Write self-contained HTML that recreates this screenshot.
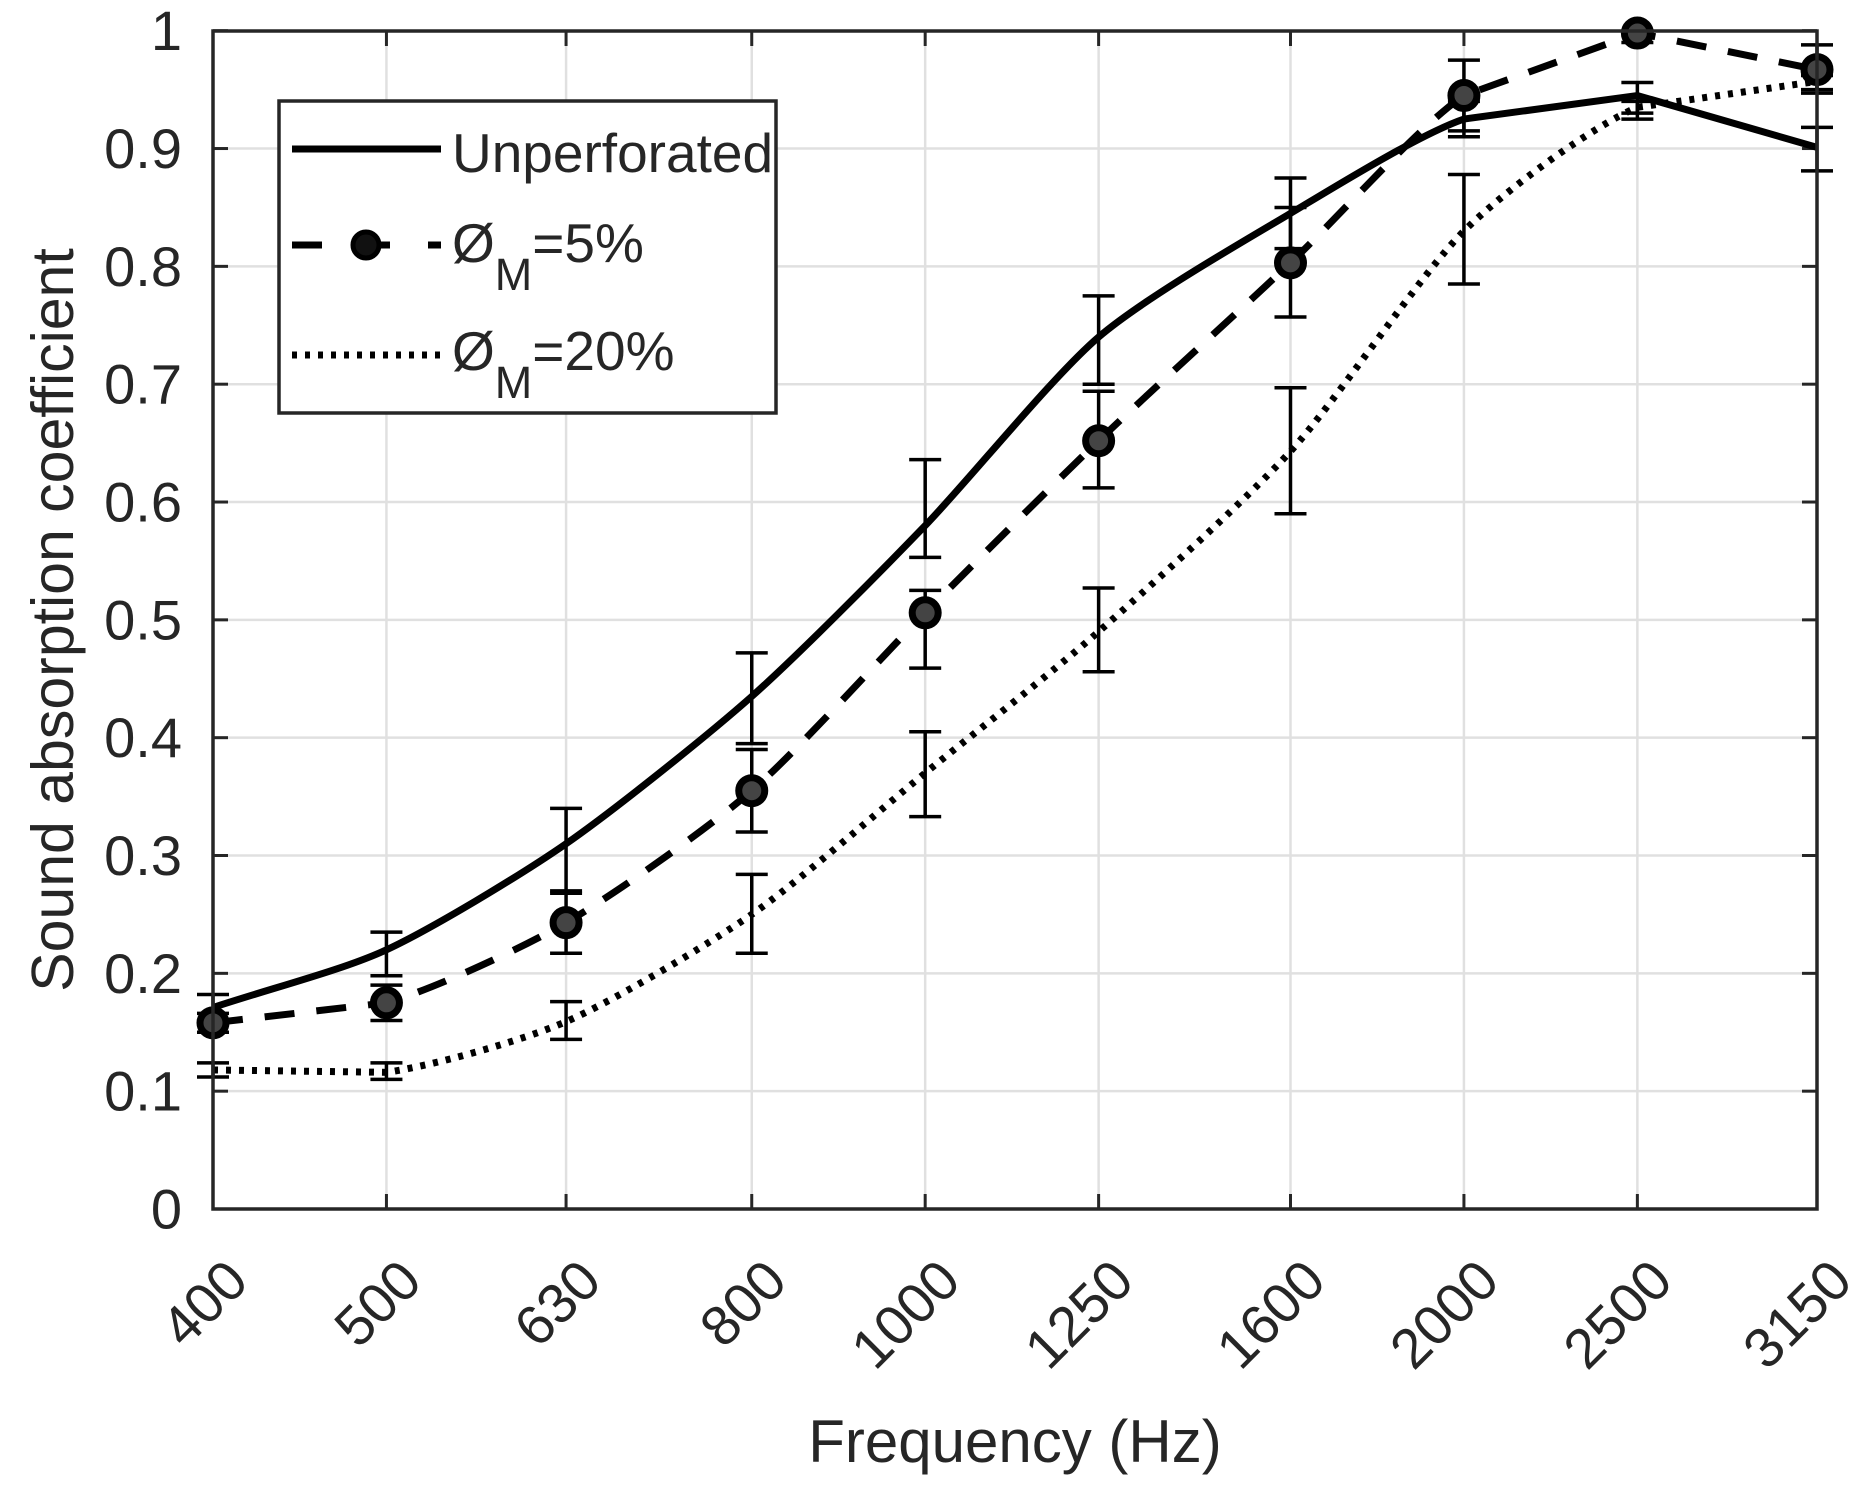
<!DOCTYPE html>
<html><head><meta charset="utf-8">
<style>
html,body{margin:0;padding:0;background:#fff;}
svg{display:block;font-family:"Liberation Sans",Arial,sans-serif;}
</style></head>
<body>
<svg id="s" width="1869" height="1490" viewBox="0 0 1869 1490" xmlns="http://www.w3.org/2000/svg">
<rect width="1869" height="1490" fill="#fff"/>
<g id="grid" stroke="#e0e0e0" stroke-width="2.5"></g>
<g id="ticks" stroke="#262626" stroke-width="3"></g>
<g id="series"></g>
<rect x="213" y="31" width="1604" height="1178" fill="none" stroke="#262626" stroke-width="3.5"/>
<g id="labels" fill="#262626" font-size="56"></g>
<text x="1015" y="1462" font-size="60" fill="#262626" text-anchor="middle">Frequency (Hz)</text>
<text transform="translate(73,620) rotate(-90)" font-size="59" fill="#262626" text-anchor="middle">Sound absorption coefficient</text>
<!-- legend -->
<rect x="279" y="101" width="497" height="312" fill="#fff" stroke="#262626" stroke-width="3.5"/>
<line x1="292" y1="149" x2="441" y2="149" stroke="#000" stroke-width="7"/>
<line x1="292" y1="245" x2="441" y2="245" stroke="#000" stroke-width="7" stroke-dasharray="30 38"/>
<circle cx="366" cy="245" r="13" fill="#111" stroke="#000" stroke-width="5"/>
<line x1="292" y1="355" x2="441" y2="355" stroke="#000" stroke-width="7" stroke-dasharray="5 8"/>
<g fill="#262626">
<text x="452" y="172" font-size="55">Unperforated</text>
<text x="452" y="262" font-size="55">Ø<tspan font-size="45" dy="28">M</tspan><tspan dy="-28">=5%</tspan></text>
<text x="452" y="370" font-size="55">Ø<tspan font-size="45" dy="28">M</tspan><tspan dy="-28">=20%</tspan></text>
</g>
</svg>
<script>
var NS="http://www.w3.org/2000/svg";
function el(p,t,a){var e=document.createElementNS(NS,t);for(var k in a)e.setAttribute(k,a[k]);p.appendChild(e);return e;}
var f=[400,500,630,800,1000,1250,1600,2000,2500,3150];
function X(v){return 213+1604*Math.log(v/400)/Math.log(3150/400);}
function Y(v){return 1209-v*1178.3;}
var xs=f.map(X);
var grid=document.getElementById('grid'),ticks=document.getElementById('ticks'),lab=document.getElementById('labels');
xs.forEach(function(x,i){
 if(i>0&&i<9)el(grid,'line',{x1:x,y1:31,x2:x,y2:1209});
 el(ticks,'line',{x1:x,y1:1209,x2:x,y2:1194});el(ticks,'line',{x1:x,y1:31,x2:x,y2:46});
 var t=el(lab,'text',{transform:'translate('+(x+24)+',1270) rotate(-45)','text-anchor':'end','dominant-baseline':'central'});t.textContent=f[i];
});
for(var k=0;k<=10;k++){var y=Y(k/10);
 if(k>0&&k<10)el(grid,'line',{x1:213,y1:y,x2:1817,y2:y});
 el(ticks,'line',{x1:213,y1:y,x2:228,y2:y});el(ticks,'line',{x1:1817,y1:y,x2:1802,y2:y});
 var t=el(lab,'text',{x:182,y:y,'text-anchor':'end','dominant-baseline':'central'});t.textContent=k==0?'0':(k==10?'1':'0.'+k);
}
var S=document.getElementById('series');
function path(vals,lin){var p=vals.map(function(v,i){return [xs[i],Y(v)];});
 var d='M'+p[0][0]+','+p[0][1];
 for(var i=0;i<p.length-1;i++){var p0=p[Math.max(i-1,0)],p1=p[i],p2=p[i+1],p3=p[Math.min(i+2,p.length-1)];
  if(lin&&lin.indexOf(i)>=0){d+=' L'+p2;continue;}
  var c1=[p1[0]+(p2[0]-p0[0])/8,p1[1]+(p2[1]-p0[1])/8],c2=[p2[0]-(p3[0]-p1[0])/8,p2[1]-(p3[1]-p1[1])/8];
  if(i==0){c1=[p1[0]+(p2[0]-p1[0])/3,p1[1]+(p2[1]-p1[1])/3];}
  if(i==p.length-2){c2=[p2[0]-(p2[0]-p1[0])/3,p2[1]-(p2[1]-p1[1])/3];}
  d+=' C'+c1+' '+c2+' '+p2;}
 return d;}
function err(lo,hi){lo.forEach(function(l,i){if(l==null)return;var x=xs[i],a=Y(l),b=Y(hi[i]);
 el(S,'line',{x1:x,y1:a,x2:x,y2:b,stroke:'#000','stroke-width':3.5});
 el(S,'line',{x1:x-16,y1:a,x2:x+16,y2:a,stroke:'#000','stroke-width':3.5});
 el(S,'line',{x1:x-16,y1:b,x2:x+16,y2:b,stroke:'#000','stroke-width':3.5});});}
var u=[0.171,0.22,0.31,0.435,0.58,0.74,0.845,0.925,0.945,0.901];
var p5=[0.158,0.175,0.243,0.355,0.506,0.652,0.803,0.945,0.998,0.967];
var p20=[0.118,0.116,0.159,0.25,0.37,0.49,0.643,0.83,0.935,0.957];
el(S,'path',{d:path(u,[7,8]),fill:'none',stroke:'#000','stroke-width':7});
el(S,'path',{d:path(p5,[0,7,8]),fill:'none',stroke:'#000','stroke-width':7,'stroke-dasharray':'30 22'});
el(S,'path',{d:path(p20,[0,8]),fill:'none',stroke:'#000','stroke-width':7,'stroke-dasharray':'5 8'});
err([0.16,0.198,0.27,0.395,0.553,0.70,0.815,0.91,0.925,0.881],[0.182,0.235,0.34,0.472,0.636,0.775,0.875,0.94,0.956,0.918]);
err([0.15,0.16,0.217,0.32,0.459,0.612,0.757,0.915,0.99,0.947],[0.166,0.19,0.268,0.39,0.525,0.694,0.85,0.975,1.0,0.988]);
err([0.112,0.11,0.144,0.217,0.333,0.456,0.59,0.785,0.93,0.95],[0.124,0.124,0.176,0.284,0.405,0.527,0.697,0.878,0.94,0.962]);
p5.forEach(function(v,i){el(S,'circle',{cx:xs[i],cy:Y(v),r:13,fill:'#444',stroke:'#000','stroke-width':7});});
</script>
</body></html>
